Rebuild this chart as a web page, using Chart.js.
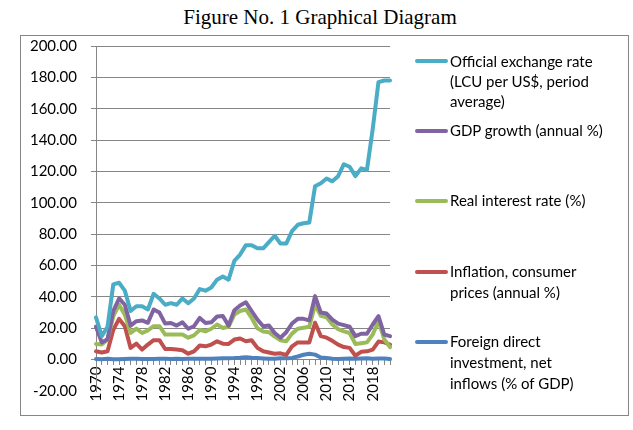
<!DOCTYPE html>
<html>
<head>
<meta charset="utf-8">
<script src="https://cdn.jsdelivr.net/npm/chart.js@4.4.1/dist/chart.umd.min.js"></script>
<style>
  body { margin: 0; background: #fff; }
  #wrap { position: relative; width: 633px; height: 430px; overflow: hidden; }
  #title { position: absolute; left: 0; width: 640px; top: 5px; text-align: center;
    font: 21px "Liberation Serif", "Times New Roman", serif; color: #000; }
  #frame { position: absolute; left: 20px; top: 35px; width: 607px; height: 379px;
    border: 1px solid #868686; }
  canvas { position: absolute; left: 0; top: 0; }
  .item { position: absolute; left: 450px; font: 15px Lato, sans-serif; color: #000; line-height: 21px; white-space: nowrap; }
  .swatch { position: absolute; left: 415px; width: 33px; height: 4px; border-radius: 2px; }
</style>
</head>
<body>
<div id="wrap">
  <div id="title">Figure No. 1 Graphical Diagram</div>
  <div id="frame"></div>
  <canvas id="myChart" width="633" height="430"></canvas>
  <div id="legend"></div>
</div>
<script>
"use strict";
const years = ["1970","1971","1972","1973","1974","1975","1976","1977","1978","1979",
  "1980","1981","1982","1983","1984","1985","1986","1987","1988","1989",
  "1990","1991","1992","1993","1994","1995","1996","1997","1998","1999",
  "2000","2001","2002","2003","2004","2005","2006","2007","2008","2009",
  "2010","2011","2012","2013","2014","2015","2016","2017","2018","2019",
  "2020","2021"];

const exchangeRate = [27, 15, 21, 48, 49, 44, 31, 34, 34, 32,
  42, 39, 35, 36, 35, 39, 36, 39, 45, 44,
  46, 51, 53, 51, 63, 67, 73, 73, 71, 71,
  75, 79, 74, 74, 82, 86, 87, 87.5, 110.5, 112.5,
  115.5, 113.7, 117, 124.6, 123, 117, 122, 121, 147, 177,
  178, 178];

const gdpGrowth = [21, 11, 13, 31, 39, 35, 21.7, 24.5, 25, 23.5,
  32, 30, 23, 23.4, 21.7, 23.8, 19.7, 21.3, 26.6, 23.4,
  23.8, 27.5, 27.8, 21.7, 31.5, 34.5, 36.6, 31, 25.5, 21.3,
  21.7, 17, 14, 17.5, 23, 26, 26, 25, 40.5, 30,
  29.4, 25.5, 23, 22, 21, 15, 16.5, 16.5, 22.4, 27.7,
  16, 15];

const realInterest = [10, 9.6, 12.8, 27.7, 35, 28.7, 17, 19.8, 17, 18.7,
  21.3, 21.3, 16, 16, 16, 16, 14, 15.5, 19, 18,
  19.7, 22.4, 20.2, 21, 28.7, 31, 32, 26.6, 20, 18,
  17.5, 14.7, 12.4, 11.7, 16.6, 19.7, 20.3, 21, 35, 28,
  27, 22.4, 19.5, 18, 17, 10, 10.5, 11, 16, 24.5,
  13, 8];

const inflation = [5.3, 4.6, 5.3, 19, 26, 21.3, 7.5, 10.2, 6.4, 9.6,
  12.4, 12.4, 6.8, 6.8, 6.4, 6, 3.8, 5.3, 9, 8.5,
  9.6, 11.7, 10.2, 10, 12.8, 13.5, 11.7, 12.4, 7.5, 5.3,
  4.6, 3.8, 4, 3, 8.5, 11, 11, 11, 23.5, 15,
  14, 12, 9.6, 8, 7.5, 2.5, 5, 5.3, 6.4, 11.5,
  11, 9.6];

const fdi = [0.4, 0.2, 0.5, 0.3, 0.2, 0.4, 0.5, 0.5, 0.4, 0.4,
  0.4, 0.5, 0.5, 0.4, 0.6, 0.4, 0.5, 0.5, 0.5, 0.6,
  0.6, 0.8, 0.9, 0.9, 1, 1.2, 1.6, 1.2, 1, 0.8,
  0.5, 0.6, 0.9, 0.9, 1.1, 2, 3.1, 3.7, 3.2, 1.4,
  1.1, 0.6, 0.4, 0.6, 0.7, 0.6, 0.8, 0.9, 0.6, 0.8,
  0.7, 0.4];

const yTicks = [-20, 0, 20, 40, 60, 80, 100, 120, 140, 160, 180, 200];

const series = [
  { label: ["Official exchange rate", "(LCU per US$, period", "average)"], data: exchangeRate, color: "#4BACC6" },
  { label: ["GDP growth (annual %)"], data: gdpGrowth, color: "#8064A2" },
  { label: ["Real interest rate (%)"], data: realInterest, color: "#9BBB59" },
  { label: ["Inflation, consumer", "prices (annual %)"], data: inflation, color: "#C0504D" },
  { label: ["Foreign direct", "investment, net", "inflows (% of GDP)"], data: fdi, color: "#4F81BD" },
];

const legendTops = [61, 131, 201, 272, 342];
const gridGray = "#868686";

const buildLegend = () => {
  const box = document.getElementById("legend");
  series.forEach((s, i) => {
    const sw = document.createElement("div");
    sw.className = "swatch";
    sw.style.top = (legendTops[i] - 2) + "px";
    sw.style.background = s.color;
    box.appendChild(sw);
    const txt = document.createElement("div");
    txt.className = "item";
    if (i === 0) {
      txt.style.lineHeight = "20px";
      txt.style.top = (legendTops[i] - 10) + "px";
    } else {
      txt.style.top = (legendTops[i] - 11) + "px";
    }
    txt.innerHTML = s.label.join("<br>");
    box.appendChild(txt);
  });
};

const createChart = () => {
  const ctx = document.getElementById("myChart").getContext("2d");
  new Chart(ctx, {
    type: "line",
    data: {
      labels: years,
      datasets: series.map((s) => ({
        label: s.label.join(" "),
        data: s.data,
        borderColor: s.color,
        backgroundColor: s.color,
        borderWidth: 4,
        pointRadius: 0,
        tension: 0,
        borderJoinStyle: "round",
        borderCapStyle: "round",
      })),
    },
    options: {
      responsive: false,
      animation: false,
      layout: { padding: { left: 0, right: 243, top: 46, bottom: 39 } },
      plugins: { legend: { display: false }, tooltip: { enabled: false } },
      scales: {
        x: {
          position: { y: 0 },
          offset: false,
          afterFit: (scale) => { scale.height = 0; },
          grid: { drawOnChartArea: false, drawTicks: true, tickLength: 5, color: gridGray },
          border: { display: true, color: gridGray },
          ticks: {
            autoSkip: false,
            minRotation: 90,
            maxRotation: 90,
            padding: 2,
            color: "#000",
            font: { family: "Lato", size: 15 },
            callback: (val, i) => (i % 4 === 0 ? years[i] : ""),
          },
        },
        y: {
          min: yTicks[0],
          max: yTicks[yTicks.length - 1],
          afterFit: (scale) => { scale.width = 96; },
          afterBuildTicks: (scale) => { scale.ticks = yTicks.map((v) => ({ value: v })); },
          grid: {
            color: (c) => (c.tick && c.tick.value === -20 ? "rgba(0,0,0,0)" : gridGray),
            tickLength: 5,
          },
          border: { display: true, color: gridGray },
          ticks: {
            padding: 14,
            color: "#000",
            font: { family: "Lato", size: 15 },
            callback: (v) => Number(v).toFixed(2),
          },
        },
      },
    },
  });
};

buildLegend();
createChart();
</script>
</body>
</html>
